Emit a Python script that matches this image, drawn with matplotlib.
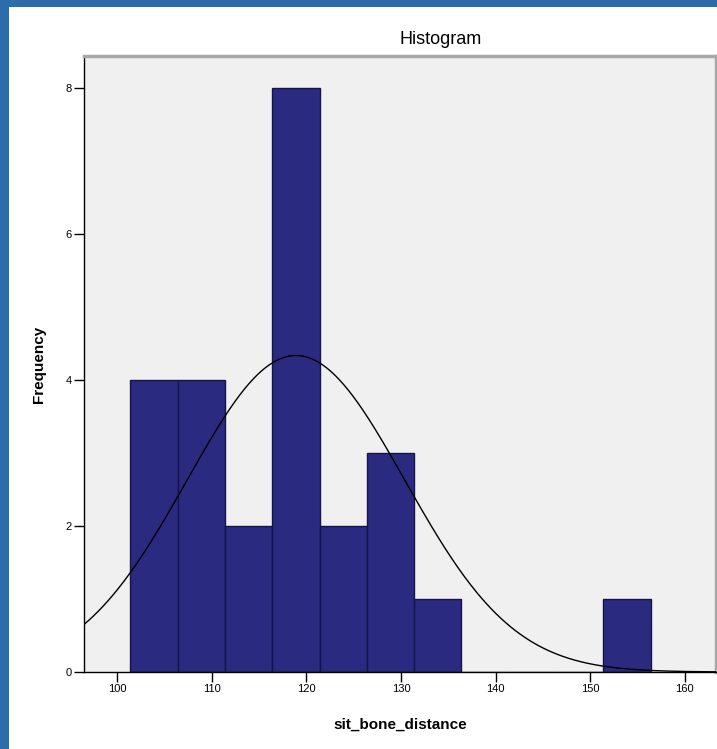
import numpy as np
import matplotlib.pyplot as plt

plt.rcParams['font.family'] = ['Liberation Sans', 'DejaVu Sans']

# histogram of sit_bone_distance (SPSS style output)
bin_start = 101.4
bin_width = 5
counts = [4, 4, 2, 8, 2, 3, 1, 0, 0, 0, 1]

# fitted normal curve parameters
mean_val = 118.9
sd_val = 11.5
n_total = sum(counts)

x_ticks = [100, 110, 120, 130, 140, 150, 160]
y_ticks = [0, 2, 4, 6, 8]

edges = bin_start + bin_width * np.arange(len(counts))

fig = plt.figure(figsize=(7.17, 7.49), dpi=100)
fig.patch.set_facecolor('#2b6cab')
# white panel inside the blue border
fig.patches.append(plt.Rectangle((9 / 717, 0), 1 - 9 / 717, 1 - 7 / 749,
                                 transform=fig.transFigure, facecolor='white',
                                 edgecolor='none', zorder=-10))

ax = fig.add_axes([84 / 717, 77 / 749, 632 / 717, 616 / 749])
ax.set_zorder(1)
ax.set_facecolor('#f0f0f0')

ax.bar(edges, counts, width=bin_width, align='edge', color='#2a2a80',
       edgecolor='#15154a', linewidth=1.0, zorder=2)

xs = np.linspace(96.5, 163.3, 400)
ys = n_total * bin_width / (sd_val * np.sqrt(2 * np.pi)) * np.exp(-0.5 * ((xs - mean_val) / sd_val) ** 2)
ax.plot(xs, ys, color='black', linewidth=1.0, zorder=3)

ax.set_xlim(96.5, 163.3)
ax.set_ylim(0, 8.44)
ax.set_xticks(x_ticks)
ax.set_yticks(y_ticks)
ax.tick_params(direction='out', length=7, width=1, labelsize=8, pad=2, colors='black')

for side in ['left', 'bottom']:
    ax.spines[side].set_color('black')
    ax.spines[side].set_linewidth(1.0)
for side in ['top', 'right']:
    ax.spines[side].set_color('#a8a8a8')
    ax.spines[side].set_linewidth(2.5)

ax.set_xlabel('sit_bone_distance', fontsize=11, fontweight='bold', labelpad=17)
ax.set_ylabel('Frequency', fontsize=11, fontweight='bold', labelpad=14)
fig.text(441 / 717, 1 - 40 / 749, 'Histogram', ha='center', va='center', fontsize=13)

plt.savefig('out.png', dpi=100, facecolor=fig.get_facecolor())
